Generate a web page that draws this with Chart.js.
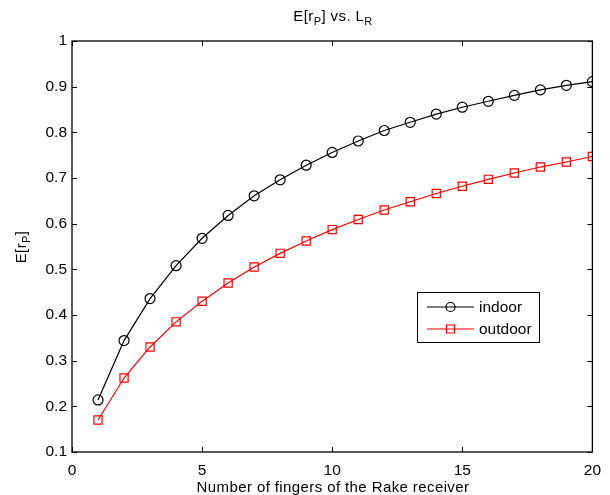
<!DOCTYPE html>
<html>
<head>
<meta charset="utf-8">
<script src="https://cdn.jsdelivr.net/npm/chart.js@4.4.0/dist/chart.umd.min.js"></script>
<style>
  html, body { margin: 0; padding: 0; background: #fff; }
  #wrap { width: 610px; height: 495px; }
</style>
</head>
<body>
<div id="wrap"><canvas id="chart" width="610" height="495"></canvas></div>
<script>
// E[rP] vs. LR
const fingers = [1,2,3,4,5,6,7,8,9,10,11,12,13,14,15,16,17,18,19,20];
const indoor  = [0.214,0.344,0.436,0.508,0.568,0.618,0.661,0.696,0.728,0.756,0.781,0.804,0.822,0.840,0.855,0.868,0.881,0.893,0.903,0.911];
const outdoor = [0.170,0.262,0.330,0.385,0.430,0.470,0.505,0.535,0.562,0.587,0.609,0.630,0.648,0.666,0.682,0.697,0.711,0.724,0.735,0.747];
const xTicks = [0,5,10,15,20];
const yTicks = [0.1,0.2,0.3,0.4,0.5,0.6,0.7,0.8,0.9,1];

const FONT = 'Liberation Sans, Arial, Helvetica, sans-serif';

// dibuja texto con subindices: partes [[texto, esSub], ...]
function textoSub(ctx, partes, x, y, size, align) {
    const sub = Math.round(size * 0.72);
    let ancho = 0;
    partes.forEach(p => {
        ctx.font = (p[1] ? sub : size) + 'px ' + FONT;
        ancho += ctx.measureText(p[0]).width;
    });
    let cx = align === 'center' ? x - ancho / 2 : x;
    ctx.textAlign = 'left';
    ctx.textBaseline = 'alphabetic';
    partes.forEach(p => {
        ctx.font = (p[1] ? sub : size) + 'px ' + FONT;
        ctx.fillText(p[0], cx, p[1] ? y + 4 : y);
        cx += ctx.measureText(p[0]).width;
    });
}

const marcoPlugin = {
    id: 'marco',
    afterDatasetsDraw(chart) {
        const ctx = chart.ctx;
        const a = chart.chartArea;
        const sx = chart.scales.x, sy = chart.scales.y;
        ctx.save();
        ctx.strokeStyle = '#000';
        ctx.lineWidth = 1;
        ctx.beginPath();
        xTicks.forEach(v => {
            const px = Math.round(sx.getPixelForValue(v)) + 0.5;
            ctx.moveTo(px, a.bottom); ctx.lineTo(px, a.bottom - 5);
            ctx.moveTo(px, a.top);    ctx.lineTo(px, a.top + 5);
        });
        yTicks.forEach(v => {
            const py = Math.round(sy.getPixelForValue(v)) + 0.5;
            ctx.moveTo(a.left, py);  ctx.lineTo(a.left + 5, py);
            ctx.moveTo(a.right, py); ctx.lineTo(a.right - 5, py);
        });
        ctx.stroke();
        ctx.lineWidth = 1.3;
        ctx.strokeRect(a.left, a.top, a.right - a.left, a.bottom - a.top);

        // leyenda
        const lx = 417, ly = 292, lw = 122, lh = 50;
        ctx.fillStyle = '#fff';
        ctx.fillRect(lx, ly, lw, lh);
        ctx.lineWidth = 1;
        ctx.strokeStyle = '#000';
        ctx.strokeRect(lx + 0.5, ly + 0.5, lw, lh);
        const filas = [
            { y: ly + 15, color: '#000', nombre: 'indoor', forma: 'circle' },
            { y: ly + 37, color: '#ff0000', nombre: 'outdoor', forma: 'rect' }
        ];
        filas.forEach(f => {
            ctx.strokeStyle = f.color;
            ctx.lineWidth = 1.2;
            ctx.beginPath();
            ctx.moveTo(427, f.y); ctx.lineTo(474, f.y);
            ctx.stroke();
            ctx.beginPath();
            if (f.forma === 'circle') ctx.arc(450.5, f.y, 4.5, 0, Math.PI * 2);
            else ctx.rect(446.5, f.y - 4, 8, 8);
            ctx.stroke();
            ctx.fillStyle = '#000';
            ctx.font = '15.5px ' + FONT;
            ctx.textAlign = 'left';
            ctx.textBaseline = 'middle';
            ctx.fillText(f.nombre, 479, f.y + 1);
        });

        // titulo y etiquetas
        ctx.fillStyle = '#000';
        ctx.letterSpacing = '0.4px';
        textoSub(ctx, [['E[r', false], ['P', true], ['] vs. L', false], ['R', true]], 333, 21, 15, 'center');
        ctx.font = '15px ' + FONT;
        ctx.textAlign = 'center';
        ctx.textBaseline = 'alphabetic';
        ctx.fillText('Number of fingers of the Rake receiver', 333, 492);
        ctx.translate(26, 247);
        ctx.rotate(-Math.PI / 2);
        textoSub(ctx, [['E[r', false], ['P', true], [']', false]], 0, 0, 15, 'center');
        ctx.restore();
    }
};

new Chart(document.getElementById('chart'), {
    type: 'line',
    data: {
        datasets: [{
            label: 'indoor',
            data: fingers.map((x, i) => ({ x: x, y: indoor[i] })),
            borderColor: '#000',
            borderWidth: 1.2,
            pointStyle: 'circle',
            pointRadius: 5,
            pointBorderWidth: 1.2,
            pointBorderColor: '#000',
            pointBackgroundColor: 'rgba(0,0,0,0)',
            tension: 0
        }, {
            label: 'outdoor',
            data: fingers.map((x, i) => ({ x: x, y: outdoor[i] })),
            borderColor: '#ff0000',
            borderWidth: 1.2,
            pointStyle: 'rect',
            pointRadius: 5.8,
            pointBorderWidth: 1.2,
            pointBorderColor: '#ff0000',
            pointBackgroundColor: 'rgba(0,0,0,0)',
            tension: 0
        }]
    },
    options: {
        responsive: false,
        animation: false,
        layout: { padding: { top: 41, right: 15, left: 0, bottom: 0 } },
        plugins: { legend: { display: false }, tooltip: { enabled: false }, title: { display: false } },
        scales: {
            x: {
                type: 'linear', min: 0, max: 20,
                afterFit: s => { s.height = 43; },
                afterBuildTicks: s => { s.ticks = xTicks.map(v => ({ value: v })); },
                grid: { display: false, drawTicks: false },
                border: { display: false },
                ticks: { color: '#000', font: { family: FONT, size: 15.5 }, padding: 9, maxRotation: 0 }
            },
            y: {
                min: 0.1, max: 1,
                afterFit: s => { s.width = 72; },
                afterBuildTicks: s => { s.ticks = yTicks.map(v => ({ value: v })); },
                grid: { display: false, drawTicks: false },
                border: { display: false },
                ticks: { color: '#000', font: { family: FONT, size: 15.5 }, padding: 5,
                         callback: v => String(Math.round(v * 10) / 10) }
            }
        }
    },
    plugins: [marcoPlugin]
});
</script>
</body>
</html>
